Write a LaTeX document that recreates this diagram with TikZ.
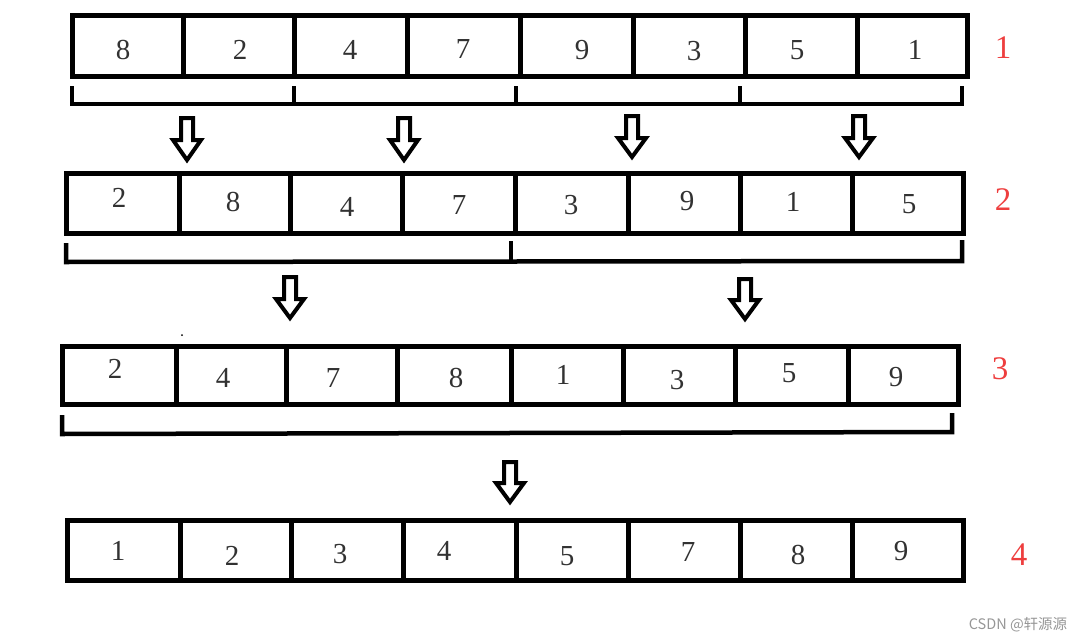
\documentclass[tikz,border=0pt]{standalone}
\usepackage{fontspec}
\setmainfont{Liberation Serif}
\newfontfamily\cjk{Noto Sans CJK SC}
\definecolor{lbl}{RGB}{238,62,62}
\definecolor{dig}{RGB}{50,50,50}
\definecolor{wmc}{RGB}{150,150,150}
\tikzset{
  boxline/.style={line width=5pt, line join=miter},
  divline/.style={line width=5pt},
  bracketline/.style={line width=4.5pt, line join=miter},
  digit/.style={text=dig, font=\fontsize{29}{30}\selectfont, inner sep=0pt},
  rowlabel/.style={text=lbl, font=\fontsize{33}{34}\selectfont, inner sep=0pt},
  blockarrow/.style={line width=4pt, line join=miter},
  watermark/.style={text=wmc, font=\cjk\fontsize{14.5}{15}\selectfont, inner sep=0pt},
}
\newcommand\mkarrow[4]{%
  \draw[blockarrow] (#1-6,#2) -- (#1+6,#2) -- (#1+6,#3) -- (#1+14,#3) -- (#1,#4) -- (#1-14,#3) -- (#1-6,#3) -- cycle;}
\begin{document}
\begin{tikzpicture}[x=1pt,y=-1pt]
\useasboundingbox (0,0) rectangle (1083,642);

% ---- row 1
\draw[boxline] (72,16) rectangle (967,76);
\foreach \x in {183,294,407,520,633,745,857} \draw[divline] (\x,16) -- (\x,76);
\node[digit] (a1) at (123,50) {8};
\node[digit] (a2) at (240,50) {2};
\node[digit] (a3) at (350,50) {4};
\node[digit] (a4) at (463,49) {7};
\node[digit] (a5) at (582,50) {9};
\node[digit] (a6) at (694,51) {3};
\node[digit] (a7) at (797,50) {5};
\node[digit] (a8) at (915,50) {1};
\node[rowlabel] (l1) at (1003,48) {1};

% brackets row 1
\draw[bracketline] (72,86) -- (72,104) -- (962,104) -- (962,86);
\foreach \x in {294,516,740} \draw[bracketline] (\x,86) -- (\x,104);

% arrows 1 -> 2
\mkarrow{187}{118}{140}{160}
\mkarrow{404}{118}{140}{160}
\mkarrow{632}{116}{138}{157}
\mkarrow{859}{116}{138}{157}

% ---- row 2
\draw[boxline] (66,173) rectangle (963,233);
\foreach \x in {179,290,402,515,628,740,852} \draw[divline] (\x,173) -- (\x,233);
\node[digit] (b1) at (119,198) {2};
\node[digit] (b2) at (233,202) {8};
\node[digit] (b3) at (347,207) {4};
\node[digit] (b4) at (459,205) {7};
\node[digit] (b5) at (571,205) {3};
\node[digit] (b6) at (687,201) {9};
\node[digit] (b7) at (793,202) {1};
\node[digit] (b8) at (909,204) {5};
\node[rowlabel] (l2) at (1003,200) {2};

% brackets row 2
\draw[bracketline] (66,243) -- (66,262) -- (962,261) -- (962,240);
\draw[bracketline] (511,241) -- (511,262);

% arrows 2 -> 3
\mkarrow{290}{277}{299}{318}
\mkarrow{745}{279}{300}{319}

% stray dot
\fill (182,335) circle (1pt);

% ---- row 3
\draw[boxline] (62,346) rectangle (958,404);
\foreach \x in {176,286,397,511,623,735,848} \draw[divline] (\x,346) -- (\x,404);
\node[digit] (c1) at (115,369) {2};
\node[digit] (c2) at (223,378) {4};
\node[digit] (c3) at (333,378) {7};
\node[digit] (c4) at (456,378) {8};
\node[digit] (c5) at (563,375) {1};
\node[digit] (c6) at (677,380) {3};
\node[digit] (c7) at (789,373) {5};
\node[digit] (c8) at (896,377) {9};
\node[rowlabel] (l3) at (1000,369) {3};

% bracket row 3
\draw[bracketline] (62,415) -- (62,434) -- (952,432) -- (952,413);

% arrow 3 -> 4
\mkarrow{510}{462}{483}{502}

% ---- row 4
\draw[boxline] (67,520) rectangle (963,580);
\foreach \x in {180,291,403,516,628,740,852} \draw[divline] (\x,520) -- (\x,580);
\node[digit] (d1) at (118,551) {1};
\node[digit] (d2) at (232,556) {2};
\node[digit] (d3) at (340,554) {3};
\node[digit] (d4) at (444,551) {4};
\node[digit] (d5) at (567,556) {5};
\node[digit] (d6) at (688,552) {7};
\node[digit] (d7) at (798,555) {8};
\node[digit] (d8) at (901,551) {9};
\node[rowlabel] (l4) at (1019,555) {4};

% watermark
\node[watermark] (wm) at (1018,625) {CSDN @轩源源};
\end{tikzpicture}
\end{document}
